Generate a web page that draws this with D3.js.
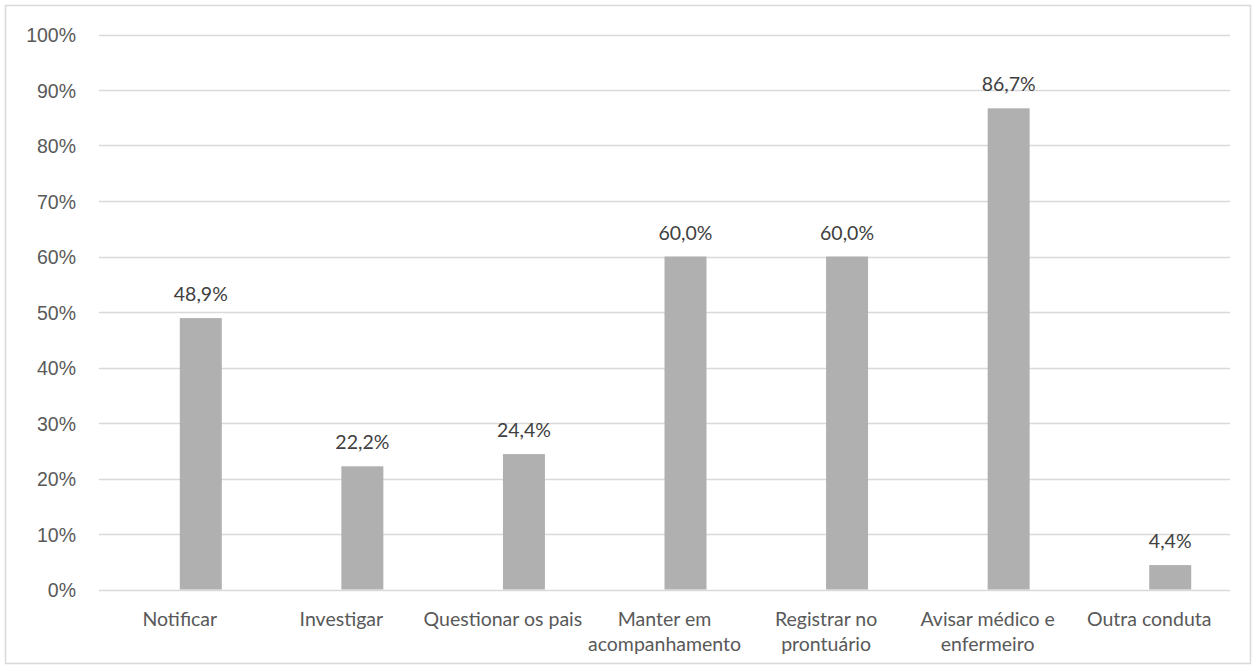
<!DOCTYPE html>
<html><head><meta charset="utf-8">
<script src="https://cdn.jsdelivr.net/npm/d3@7"></script>
<style>body{margin:0;background:#fff;} svg{display:block;font-family:Lato,"Open Sans",sans-serif;}</style>
</head><body>
<svg id="c" width="1256" height="669"></svg>
<script>
const categories = ["Notificar","Investigar","Questionar os pais","Manter em|acompanhamento","Registrar no|prontuário","Avisar médico e|enfermeiro","Outra conduta"];
const values = [48.9,22.2,24.4,60.0,60.0,86.7,4.4];
const valueLabels = ["48,9%","22,2%","24,4%","60,0%","60,0%","86,7%","4,4%"];
const yTicks = [0,10,20,30,40,50,60,70,80,90,100];

const svg = d3.select("#c");
const W=1256,H=669;
const m={left:99,right:26,top:34.5,bottom:79.5};
svg.append("rect").attr("x",5.5).attr("y",5.5).attr("width",W-11).attr("height",H-11)
  .attr("fill","#fff").attr("stroke","#d9d9d9").attr("stroke-width",1.5);

const x=d3.scaleBand().domain(categories).range([m.left,W-m.right]);
const barW=42;
const y=d3.scaleLinear().domain([0,100]).range([H-m.bottom,m.top]);

const grid=svg.append("g");
grid.selectAll("line").data(yTicks).join("line")
  .attr("x1",m.left).attr("x2",W-m.right)
  .attr("y1",d=>Math.round(y(d))+0.5).attr("y2",d=>Math.round(y(d))+0.5)
  .attr("stroke","#d9d9d9").attr("stroke-width",1.3);

const yAxis=d3.axisLeft(y).tickValues(yTicks).tickFormat(d=>d+"%").tickSize(0).tickPadding(23);
const ya=svg.append("g").attr("transform",`translate(${m.left},0)`).call(yAxis);
ya.select(".domain").remove();
ya.selectAll("text").attr("fill","#595959").style("font-size","19.5px").attr("dy","0.36em");

const cx=c=>x(c)+x.bandwidth()/2;
svg.append("g").selectAll("rect").data(values).join("rect")
  .attr("x",(d,i)=>cx(categories[i])).attr("width",barW)
  .attr("y",d=>y(d)).attr("height",d=>y(0)-y(d)).attr("fill","#b0b0b0");

svg.append("g").selectAll("text").data(values).join("text")
  .attr("x",(d,i)=>cx(categories[i])+barW/2).attr("y",d=>y(d)-17)
  .attr("text-anchor","middle").attr("fill","#404040").style("font-size","19.5px")
  .text((d,i)=>valueLabels[i]);

const xl=svg.append("g");
categories.forEach(c=>{
  const lines=c.split("|");
  const t=xl.append("text").attr("x",cx(c)).attr("y",y(0)+36)
    .attr("text-anchor","middle").attr("fill","#595959").style("font-size","19.5px");
  lines.forEach((l,i)=>t.append("tspan").attr("x",cx(c)).attr("dy",i?25:0).text(l));
});
</script>
</body></html>
